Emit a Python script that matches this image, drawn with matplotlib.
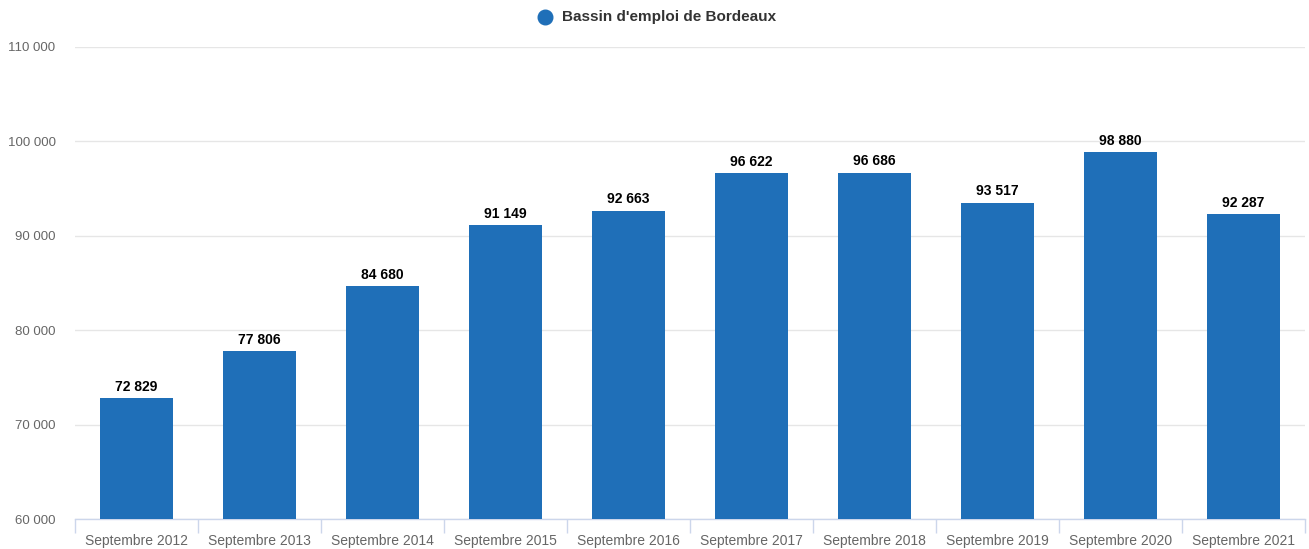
import matplotlib
matplotlib.use("Agg")
import matplotlib.pyplot as plt
from matplotlib.lines import Line2D
from matplotlib.ticker import FixedLocator, FuncFormatter

plt.rcParams["font.family"] = ["Liberation Sans", "DejaVu Sans"]

categories = ["Septembre 2012", "Septembre 2013", "Septembre 2014", "Septembre 2015",
              "Septembre 2016", "Septembre 2017", "Septembre 2018", "Septembre 2019",
              "Septembre 2020", "Septembre 2021"]
values = [72829, 77806, 84680, 91149, 92663, 96622, 96686, 93517, 98880, 92287]
series_name = "Bassin d'emploi de Bordeaux"
y_ticks = [60000, 70000, 80000, 90000, 100000, 110000]

BAR = "#1f6fb8"


def fmt(v, _=None):
    return f"{int(v):,}".replace(",", " ")


W, H = 1309, 549
fig = plt.figure(figsize=(W / 100, H / 100), dpi=100)
ax = fig.add_axes([75 / W, (H - 519) / H, (1305 - 75) / W, (519 - 47) / H])

x = list(range(len(categories)))
ax.bar(x, [v - y_ticks[0] for v in values], bottom=y_ticks[0], width=0.6, color=BAR, zorder=3)

for xi, v in zip(x, values):
    ax.text(xi, v + 450, fmt(v), ha="center", va="bottom", fontsize=10,
            fontweight="bold", color="#000000", zorder=4)

ax.set_xlim(-0.5, len(categories) - 0.5)
ax.set_ylim(y_ticks[0], y_ticks[-1])
ax.set_yticks(y_ticks)
ax.yaxis.set_major_formatter(FuncFormatter(fmt))
ax.grid(axis="y", color="#e6e6e6", linewidth=1, zorder=0)
ax.tick_params(axis="y", length=0, labelsize=9.5, labelcolor="#666666", pad=14)

ax.set_xticks(x)
ax.set_xticklabels(categories)
ax.xaxis.set_minor_locator(FixedLocator([i - 0.5 for i in range(len(categories) + 1)]))
ax.tick_params(axis="x", which="major", length=0, labelsize=10, labelcolor="#666666", pad=11)
ax.tick_params(axis="x", which="minor", length=10, color="#ccd6eb", width=1)

for s in ["top", "right", "left"]:
    ax.spines[s].set_visible(False)
ax.spines["bottom"].set_color("#ccd6eb")
ax.spines["bottom"].set_linewidth(1)

# legend
fig.add_artist(Line2D([545 / W], [1 - 17 / H], marker="o", markersize=10.5,
                      color=BAR, linestyle="none", transform=fig.transFigure))
fig.text(562 / W, 1 - 17 / H, series_name, fontsize=11, fontweight="bold",
         color="#333333", ha="left", va="center")

fig.savefig("out.png", dpi=100)
